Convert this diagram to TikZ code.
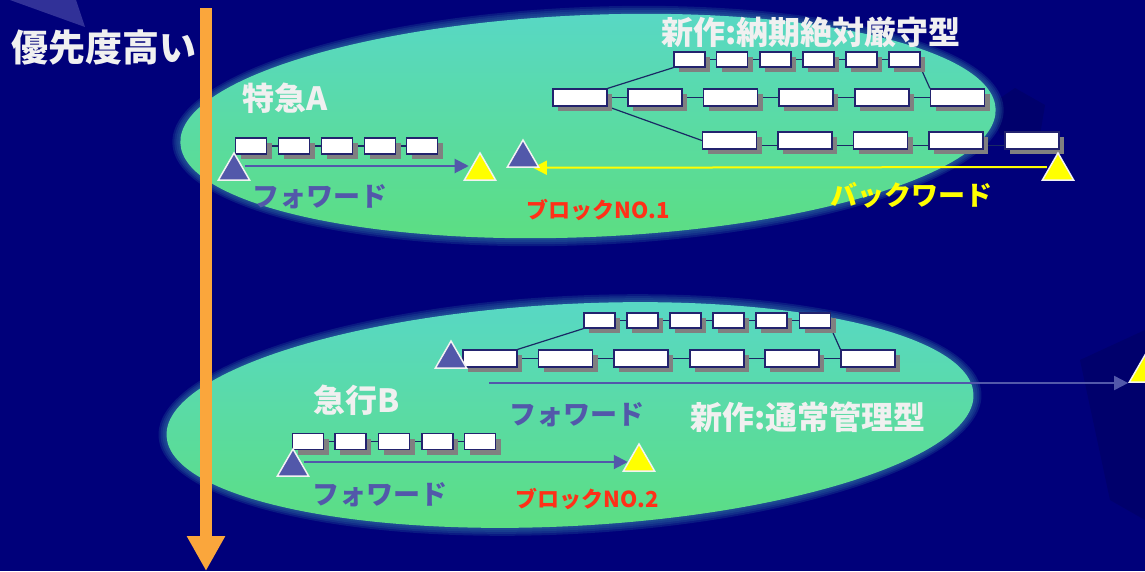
\documentclass[tikz,border=0pt]{standalone}
\usepackage{fontspec}
\setmainfont{Noto Sans CJK JP}
\usetikzlibrary{arrows.meta,shapes.geometric,shadows}

\definecolor{navy}{RGB}{0,0,122}
\definecolor{beam}{RGB}{70,70,165}
\definecolor{deepnavy}{RGB}{0,0,108}
\definecolor{prio}{RGB}{250,166,60}
\definecolor{ovaltop}{RGB}{88,216,196}
\definecolor{ovalbot}{RGB}{92,222,128}
\definecolor{boxline}{RGB}{35,35,110}
\definecolor{boxshade}{RGB}{128,128,128}
\definecolor{linkcol}{RGB}{25,40,100}
\definecolor{fwdblue}{RGB}{82,88,170}
\definecolor{lblwhite}{RGB}{240,240,240}
\definecolor{blkred}{RGB}{255,48,24}
\definecolor{bwdyellow}{RGB}{255,255,0}

\pgfdeclarelayer{bg}
\pgfdeclarelayer{links}
\pgfsetlayers{bg,links,main}

\begin{document}
\begin{tikzpicture}[x=1pt, y=-1pt
        , every node/.style={inner sep=0pt, font=\bfseries}
        , box/.style={draw=boxline, fill=white, line width=1.2pt
            , minimum width=31pt, minimum height=16pt
            , drop shadow={shadow xshift=5pt, shadow yshift=-5pt, fill=boxshade, opacity=1}}
        , wbox/.style={box, minimum width=54pt, minimum height=17pt}
        , link/.style={draw=linkcol, line width=1.2pt}
        , fwd/.style={draw=fwdblue, line width=2pt, -{Triangle[length=14pt,width=14pt]}}
        , bwd/.style={draw=bwdyellow, line width=2pt, -{Triangle[length=14pt,width=14pt]}}
        , tri/.style={regular polygon, regular polygon sides=3, minimum size=36pt
            , draw=white!90!gray, line width=1.5pt}
        , tristart/.style={tri, fill=fwdblue}
        , trigoal/.style={tri, fill=bwdyellow}
        , title/.style={text=lblwhite, font=\bfseries\fontsize{32}{34}\selectfont}
        , kana/.style={font=\bfseries\fontsize{27}{29}\selectfont}
        , blk/.style={text=blkred, font=\bfseries\fontsize{22}{24}\selectfont}
        , rim/.style={fill=ovaltop!55!navy, opacity=0.22}
    ]

    \useasboundingbox (0,0) rectangle (1145,571);
    \clip (0,0) rectangle (1145,571);

    %% backdrop and the two ovals
    \begin{pgfonlayer}{bg}
    \fill[navy] (0,0) rectangle (1145,571);
    \fill[beam, opacity=0.7] (10,0) -- (76,0) -- (85,27) -- cycle;
    \fill[deepnavy] (990,105) -- (1015,88) -- (1045,105) -- (1040,135) -- (1000,135) -- cycle;
    \fill[deepnavy] (1080,360) -- (1145,330) -- (1145,520) -- (1110,500) -- cycle;

    \foreach \r in {7,5,3,1} {
        \fill[rim, rotate around={2.4:(588,126)}]
            (588,126) ellipse ({409+\r} and {112+\r});
        \fill[rim, rotate around={3:(570,415)}]
            (570,415) ellipse ({405+\r} and {112+\r});
    }
    \shade[top color=ovaltop, bottom color=ovalbot, rotate around={2.4:(588,126)}]
        (588,126) ellipse (408 and 111);
    \shade[top color=ovaltop, bottom color=ovalbot, rotate around={3:(570,415)}]
        (570,415) ellipse (404 and 111);
    \end{pgfonlayer}

    % priority axis
    \node[text=lblwhite, font=\bfseries\fontsize{37}{39}\selectfont] (prio) at (104,47) {優先度高い};
    \coordinate (prioTop) at (206,8);
    \coordinate (prioEnd) at (206,571);
    \draw[prio, line width=12pt, -{Triangle[length=35pt,width=36pt]}] (prioTop) -- (prioEnd);

    %% block 1 : express A
    \node[title] (lblA) at (285,98) {特急A};
    \node[box] (spA1) at (251,146) {};
    \node[box] (spA2) at (294,146) {};
    \node[box] (spA3) at (337,146) {};
    \node[box] (spA4) at (380,146) {};
    \node[box] (spA5) at (422,146) {};

    % new job, fixed due date
    \node[title] (newA) at (811,32) {新作:納期絶対厳守型};
    \node[box, minimum height=15pt] (hiA1) at (689.5,59.5) {};
    \node[box, minimum height=15pt] (hiA2) at (732,59.5) {};
    \node[box, minimum height=15pt] (hiA3) at (775.5,59.5) {};
    \node[box, minimum height=15pt] (hiA4) at (818.5,59.5) {};
    \node[box, minimum height=15pt] (hiA5) at (861.5,59.5) {};
    \node[box, minimum height=15pt] (hiA6) at (904.5,59.5) {};
    \node[wbox] (midA1) at (580,97.5) {};
    \node[wbox] (midA2) at (655,97.5) {};
    \node[wbox] (midA3) at (730.5,97.5) {};
    \node[wbox] (midA4) at (806,97.5) {};
    \node[wbox] (midA5) at (882,97.5) {};
    \node[wbox] (midA6) at (957.5,97.5) {};
    \node[wbox] (loA1) at (729.5,140.5) {};
    \node[wbox] (loA2) at (805,140.5) {};
    \node[wbox] (loA3) at (880.5,140.5) {};
    \node[wbox] (loA4) at (956,140.5) {};
    \node[wbox] (loA5) at (1032,140.5) {};

    % start and end marks
    \node[tristart] (goA0) at (234,171) {};
    \node[trigoal] (endA0) at (480,171) {};
    \node[tristart] (goA1) at (523,158) {};
    \node[trigoal] (endA1) at (1058,171) {};

    \node[kana, text=fwdblue] (fwdA) at (320,197) {フォワード};
    \node[blk] (blkA) at (598,210) {ブロックNO.1};
    \node[kana, text=bwdyellow] (bwdA) at (911,195) {バックワード};

    %% block 2 : rapid B
    \node[title] (lblB) at (357,400) {急行B};
    \node[box] (kyB1) at (308,441.5) {};
    \node[box] (kyB2) at (350.5,441.5) {};
    \node[box] (kyB3) at (394,441.5) {};
    \node[box] (kyB4) at (437.5,441.5) {};
    \node[box] (kyB5) at (480,441.5) {};

    % new job, normal control
    \node[title] (newB) at (808,417) {新作:通常管理型};
    \node[box, minimum height=15pt] (hiB1) at (599.5,320.5) {};
    \node[box, minimum height=15pt] (hiB2) at (642.5,320.5) {};
    \node[box, minimum height=15pt] (hiB3) at (685.5,320.5) {};
    \node[box, minimum height=15pt] (hiB4) at (728.5,320.5) {};
    \node[box, minimum height=15pt] (hiB5) at (771.5,320.5) {};
    \node[box, minimum height=15pt] (hiB6) at (815,320.5) {};
    \node[wbox] (midB1) at (490,358.5) {};
    \node[wbox] (midB2) at (565.5,358.5) {};
    \node[wbox] (midB3) at (641,358.5) {};
    \node[wbox] (midB4) at (717,358.5) {};
    \node[wbox] (midB5) at (792,358.5) {};
    \node[wbox] (midB6) at (868,358.5) {};

    \node[tristart] (goB1) at (451,359) {};
    \node[trigoal] (endB1) at (1145,373) {};
    \node[tristart] (goB0) at (293,467) {};
    \node[trigoal] (endB0) at (639,462) {};

    \node[kana, text=fwdblue] (fwdB1) at (577,415) {フォワード};
    \node[kana, text=fwdblue] (fwdB0) at (380,495) {フォワード};
    \node[blk] (blkB) at (587,499) {ブロックNO.2};

    %% links and arrows go under the boxes
    \begin{pgfonlayer}{links}
    \draw[link] (spA1) -- (spA2) -- (spA3) -- (spA4) -- (spA5);
    \draw[link] (hiA1) -- (hiA2) -- (hiA3) -- (hiA4) -- (hiA5) -- (hiA6);
    \draw[link] (midA1) -- (midA2) -- (midA3) -- (midA4) -- (midA5) -- (midA6);
    \draw[link] ([yshift=-5pt]loA1.east) -- ([yshift=-5pt]loA2.west);
    \draw[link] ([yshift=-5pt]loA2.east) -- ([yshift=-5pt]loA3.west);
    \draw[link] ([yshift=-5pt]loA3.east) -- ([yshift=-5pt]loA4.west);
    \draw[link] ([yshift=-5pt]loA4.east) -- ([yshift=-5pt]loA5.west);
    \draw[link] (midA1.north east) -- (hiA1.south west);
    \draw[link] (midA1.south east) -- (loA1.west);
    \draw[link] (hiA6.south east) -- (midA6.north west);

    \draw[link] (kyB1) -- (kyB2) -- (kyB3) -- (kyB4) -- (kyB5);
    \draw[link] (hiB1) -- (hiB2) -- (hiB3) -- (hiB4) -- (hiB5) -- (hiB6);
    \draw[link] (midB1) -- (midB2) -- (midB3) -- (midB4) -- (midB5) -- (midB6);
    \draw[link] (midB1.north east) -- (hiB1.south west);
    \draw[link] (hiB6.south east) -- (midB6.north west);

    \draw[fwd] ([yshift=5pt]goA0.east) -- ([yshift=5pt]endA0.west);
    \draw[bwd, shorten >=-7pt] ([yshift=4pt]endA1.west) -- (goA1.corner 3);
    \coordinate (fwdB1start) at (489,383);
    \draw[fwd] (fwdB1start) -- (fwdB1start -| endB1.corner 2);
    \draw[fwd] ([yshift=5pt]goB0.east) -- (endB0.west);
    \end{pgfonlayer}
\end{tikzpicture}
\end{document}
